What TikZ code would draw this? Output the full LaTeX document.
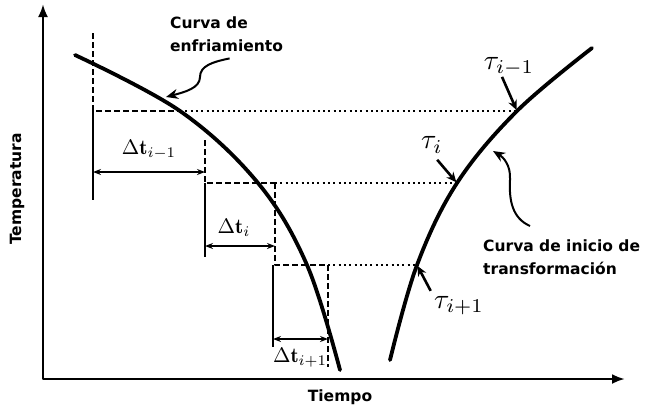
\documentclass[tikz,border=0pt]{standalone}
\usepackage{fontspec}
\newfontfamily\lblfont{DejaVu Sans}
\usetikzlibrary{arrows.meta}

\begin{document}
\begin{tikzpicture}[x=1pt, y=-1pt, line join=round,
    txt/.style={font=\lblfont\bfseries\fontsize{15.5}{23}\selectfont, inner sep=0pt},
    sym/.style={scale=2.1, inner sep=0pt},
    tau/.style={scale=2.8, inner sep=0pt},
    axes/.style={line width=2.6pt, {Latex[length=13pt,width=10pt]}-{Latex[length=13pt,width=10pt]}},
    curve/.style={line width=3.8pt, line cap=round},
    guide/.style={line width=1.8pt, dash pattern=on 6pt off 3pt},
    dots/.style={line width=2pt, dash pattern=on 2pt off 3.3pt},
    rulestep/.style={line width=1.6pt},
    spanarrow/.style={line width=1.6pt, {Stealth[length=8pt,width=6pt]}-{Stealth[length=8pt,width=6pt]}},
    tauarrow/.style={line width=2.6pt, shorten >=1pt, -{Stealth[length=10pt,width=9pt]}},
    pointer/.style={line width=2pt, -{Stealth[length=12pt,width=10pt]}}]
\useasboundingbox (0,0) rectangle (647,408);

% axes
\coordinate (O) at (43,379);
\coordinate (ytip) at (43,4);
\coordinate (xtip) at (625,379);
\draw[axes] (ytip) -- (O) -- (xtip);

% curves
\draw[curve] plot[smooth, tension=0.6] coordinates {(75,55) (180,111) (258,183) (307,265) (340,370)};
\draw[curve] plot[smooth, tension=0.6] coordinates {(390,360) (417,265) (457,183) (517,111) (592,48)};

% step corners and points on the transformation curve
\coordinate (k1) at (93,111);
\coordinate (k2) at (205,183);
\coordinate (k3) at (275,183);
\coordinate (k4) at (328,265);
\coordinate (p1) at (517,111);
\coordinate (p2) at (457,183);
\coordinate (p3) at (417,265);

% step i-1
\draw[guide] (93,33) -- (k1) -- (180,111);
\draw[dots] (180,111) -- (p1);
\draw[rulestep] (k1) -- (93,200);
\draw[guide] (205,140) -- (k2) -- (k3);
\draw[rulestep] (k2) -- (205,257);
\draw[spanarrow] (93,172) -- (205,172);

% step i
\draw[dots] (k3) -- (p2);
\draw[guide] (k3) -- (275,265) -- (k4);
\draw[rulestep] (273,265) -- (273,347);
\draw[spanarrow] (205,246) -- (275,246);

% step i+1
\draw[dots] (k4) -- (p3);
\draw[guide] (k4) -- (328,367);
\draw[spanarrow] (273,339) -- (328,339);

% labels
\node[sym] (dt1) at (149,150) {$\Delta\mathbf{t}_{i-1}$};
\node[sym] (dt2) at (234,228) {$\Delta\mathbf{t}_{i}$};
\node[sym] (dt3) at (300,358) {$\Delta\mathbf{t}_{i+1}$};
\node[tau] (tau1) at (509,67) {$\tau_{i-1}$};
\node[tau] (tau2) at (432,145) {$\tau_{i}$};
\node[tau] (tau3) at (459,306) {$\tau_{i+1}$};
\draw[tauarrow] ([xshift=-7pt]tau1.south) -- (p1);
\draw[tauarrow, shorten <=8pt] (tau2.south) -- (p2);
\draw[tauarrow, shorten <=6pt] (tau3.north west) -- (p3);

\node[txt, anchor=north west, align=left] (lcool) at (170,17) {Curva de\\enfriamiento};
\node[txt, anchor=north west, align=left] (ltrans) at (483,240) {Curva de inicio de\\transformación};
\node[txt, rotate=90] (ytitle) at (17,189) {Temperatura};
\node[txt] (xtitle) at (340,397) {Tiempo};

\coordinate (pcool) at (166,97);
\coordinate (ptrans) at (493,151);
\draw[pointer] ([shift={(3,6)}]lcool.south) .. controls (212,62) and (200,66) .. (200,77)
    .. controls (200,88) and (185,92) .. (pcool);
\draw[pointer] ([shift={(47,-14)}]ltrans.north west) .. controls (512,218) and (509,200) .. (510,180)
    .. controls (511,165) and (503,157) .. (ptrans);
\end{tikzpicture}
\end{document}
